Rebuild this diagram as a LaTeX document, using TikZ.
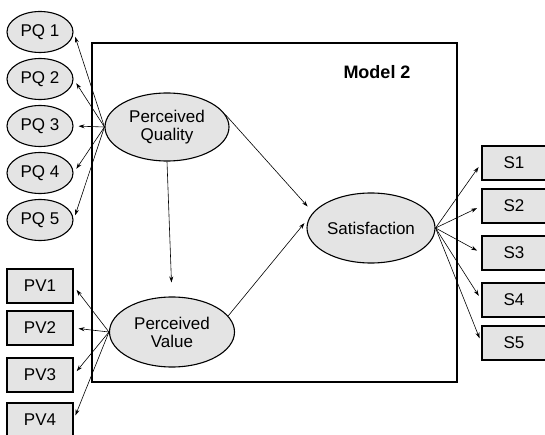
\documentclass[tikz,border=0pt]{standalone}
\usepackage{fontspec}
\setmainfont{Liberation Sans}
\usetikzlibrary{shapes.geometric,arrows.meta}
\definecolor{boxfill}{HTML}{E4E4E4}
\tikzset{
  latent/.style={ellipse, draw, line width=1.1pt, fill=boxfill, inner sep=0pt, font=\fontsize{17}{18}\selectfont, align=center},
  itemoval/.style={latent, minimum width=66pt, minimum height=41pt},
  bigoval/.style={latent, minimum width=124pt, minimum height=68pt},
  itembox/.style={rectangle, draw, line width=1.1pt, fill=boxfill, inner sep=0pt, minimum width=66pt, minimum height=34pt, font=\fontsize{17}{18}\selectfont},
  arr/.style={-{Stealth[length=6pt,width=4pt]}, line width=0.6pt, shorten >=5pt},
  frame/.style={draw, line width=1.4pt}
}
\begin{document}
\begin{tikzpicture}[x=1pt,y=-1pt]
\useasboundingbox (0,0) rectangle (545,435);
\draw[frame] (92,43) rectangle (457,382);
\node[font=\bfseries\fontsize{18}{20}\selectfont] (title) at (377,72) {Model 2};

% latent variables
\node[bigoval] (PQ) at (167,127) {Perceived\\Quality};
\node[bigoval, minimum width=125pt, minimum height=70pt] (PV) at (172,332) {Perceived\\Value};
\node[bigoval, minimum width=128pt, minimum height=70pt] (Sat) at (371,228) {Satisfaction};

% indicators of perceived quality
\node[itemoval] (pq1) at (40,32) {PQ 1};
\node[itemoval] (pq2) at (40,79) {PQ 2};
\node[itemoval] (pq3) at (40,126) {PQ 3};
\node[itemoval] (pq4) at (40,173) {PQ 4};
\node[itemoval] (pq5) at (40,220) {PQ 5};

% indicators of perceived value
\node[itembox] (pv1) at (40,286) {PV1};
\node[itembox] (pv2) at (40,328) {PV2};
\node[itembox] (pv3) at (40,375) {PV3};
\node[itembox] (pv4) at (40,420) {PV4};

% indicators of satisfaction
\node[itembox, minimum width=64pt] (s1) at (514,163) {S1};
\node[itembox, minimum width=64pt] (s2) at (514,206) {S2};
\node[itembox, minimum width=64pt] (s3) at (514,253) {S3};
\node[itembox, minimum width=64pt] (s4) at (514,300) {S4};
\node[itembox, minimum width=64pt] (s5) at (514,343) {S5};

% loadings
\foreach \i in {1,...,5} \draw[arr] (PQ.west) -- (pq\i.east);
\foreach \i in {1,...,4} \draw[arr] (PV.west) -- (pv\i.east);
\foreach \i in {1,...,5} \draw[arr] (Sat.east) -- (s\i.west);

% structural paths
\draw[arr, shorten >=14pt] (PQ.south) -- (PV.north);
\draw[arr, shorten >=8pt] (PQ.12) -- (Sat.165);
\draw[arr, shorten >=9pt] (PV.16) -- (Sat.169);
\end{tikzpicture}
\end{document}
